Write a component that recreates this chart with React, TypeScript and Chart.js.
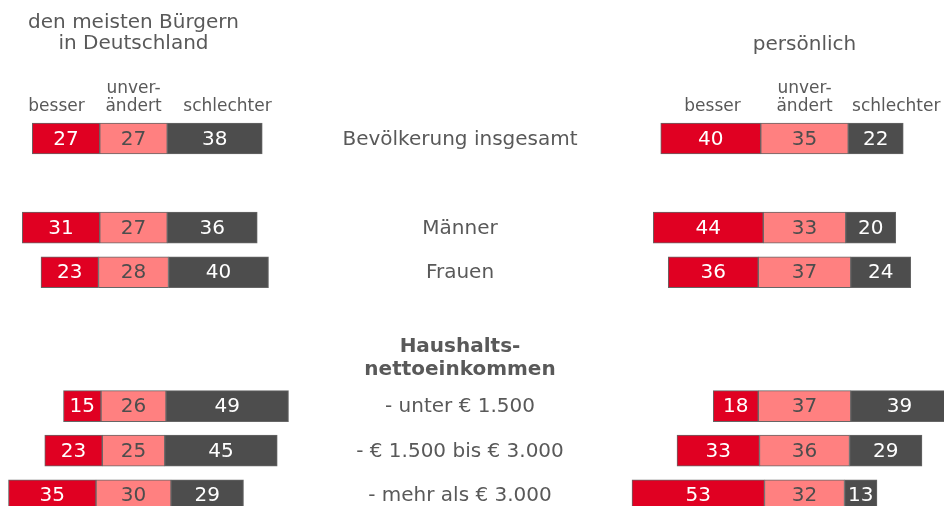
import React, { useEffect, useRef } from "react";
import { Chart, registerables } from "chart.js";

Chart.register(...registerables);

const rowLabels = [
  "Bevölkerung insgesamt",
  "Männer",
  "Frauen",
  "- unter € 1.500",
  "- € 1.500 bis € 3.000",
  "- mehr als € 3.000",
];
const rowPositions = [0, 2, 3, 6, 7, 8];
const sectionTitle = ["Haushalts-", "nettoeinkommen"];
const sectionPosition = 5;

const leftTitle = ["den meisten Bürgern", "in Deutschland"];
const rightTitle = ["persönlich"];
const columnHeads = ["besser", "unver-|ändert", "schlechter"];

const leftBesser = [27, 31, 23, 15, 23, 35];
const leftUnv = [27, 27, 28, 26, 25, 30];
const leftSchl = [38, 36, 40, 49, 45, 29];
const rightBesser = [40, 44, 36, 18, 33, 53];
const rightUnv = [35, 33, 37, 37, 36, 32];
const rightSchl = [22, 20, 24, 39, 29, 13];

const RED = "#e00022";
const PINK = "#ff8080";
const DARK = "#4d4d4d";
const TEXT = "#595959";
const FONT = "'DejaVu Sans', Verdana, sans-serif";

function segs(b: number[], u: number[], s: number[]) {
  const be = b.map((v, i) => ({ x: [-u[i] / 2 - v, -u[i] / 2], y: rowPositions[i], v }));
  const un = u.map((v, i) => ({ x: [-v / 2, v / 2], y: rowPositions[i], v }));
  const sc = s.map((v, i) => ({ x: [u[i] / 2, u[i] / 2 + v], y: rowPositions[i], v }));
  return [be, un, sc];
}

export default function App() {
  const ref = useRef<HTMLCanvasElement | null>(null);

  useEffect(() => {
    if (!ref.current) return;
    const [lb, lu, ls] = segs(leftBesser, leftUnv, leftSchl);
    const [rb, ru, rs] = segs(rightBesser, rightUnv, rightSchl);
    const mk = (data: any[], color: string, axis: string, label: string) => ({
      label,
      data,
      xAxisID: axis,
      backgroundColor: color,
      borderColor: "#666666",
      borderWidth: 1,
      borderSkipped: false,
      barThickness: 31,
      grouped: false,
    });

    const textPlugin = {
      id: "texts",
      afterDatasetsDraw(chart: any) {
        const ctx = chart.ctx;
        const xL = chart.scales.xL;
        const xR = chart.scales.xR;
        const y = chart.scales.y;
        ctx.save();
        ctx.textAlign = "center";
        ctx.textBaseline = "middle";
        // values in bars
        chart.data.datasets.forEach((ds: any, di: number) => {
          const meta = chart.getDatasetMeta(di);
          meta.data.forEach((el: any, i: number) => {
            const p = el.getCenterPoint();
            ctx.font = `20px ${FONT}`;
            ctx.fillStyle = ds.backgroundColor === PINK ? DARK : "#ffffff";
            ctx.fillText(String(ds.data[i].v), p.x, p.y + 1);
          });
        });
        // row labels
        ctx.fillStyle = TEXT;
        ctx.font = `20px ${FONT}`;
        const cx = 460;
        rowLabels.forEach((l, i) => {
          ctx.fillText(l, cx, y.getPixelForValue(rowPositions[i]) + 1);
        });
        ctx.font = `bold 20px ${FONT}`;
        const sy = y.getPixelForValue(sectionPosition);
        ctx.fillText(sectionTitle[0], cx, sy - 15);
        ctx.fillText(sectionTitle[1], cx, sy + 8);
        // titles
        ctx.font = `20px ${FONT}`;
        const lc = xL.getPixelForValue(0);
        const rc = xR.getPixelForValue(0);
        ctx.fillText(leftTitle[0], lc, 23);
        ctx.fillText(leftTitle[1], lc, 44);
        ctx.fillText(rightTitle[0], rc, 45);
        // column heads
        ctx.font = `17px ${FONT}`;
        const drawHeads = (sc: any, pos: number[]) => {
          columnHeads.forEach((h, i) => {
            const px = sc.getPixelForValue(pos[i]);
            const parts = h.split("|");
            if (parts.length === 2) {
              ctx.fillText(parts[0], px, 89);
              ctx.fillText(parts[1], px, 107);
            } else {
              ctx.fillText(parts[0], px, 107);
            }
          });
        };
        drawHeads(xL, [-30.8, 0, 37.6]);
        drawHeads(xR, [-36.8, 0, 36.7]);
        ctx.restore();
      },
    };

    const chart = new Chart(ref.current, {
      type: "bar",
      data: {
        datasets: [
          mk(lb, RED, "xL", "besser"),
          mk(lu, PINK, "xL", "unverändert"),
          mk(ls, DARK, "xL", "schlechter"),
          mk(rb, RED, "xR", "besser"),
          mk(ru, PINK, "xR", "unverändert"),
          mk(rs, DARK, "xR", "schlechter"),
        ] as any,
      },
      options: {
        indexAxis: "y",
        animation: false,
        responsive: true,
        maintainAspectRatio: false,
        layout: { padding: 0 },
        plugins: { legend: { display: false }, tooltip: { enabled: false } },
        scales: {
          y: { type: "linear", display: false, offset: false, min: -3.105, max: 8.24, reverse: true },
          xL: { type: "linear", display: false, offset: false, min: -53.4, max: 324.2, axis: "x" },
          xR: { type: "linear", display: false, offset: false, min: -321.8, max: 55.8, axis: "x" },
        } as any,
      },
      plugins: [textPlugin],
    });
    return () => chart.destroy();
  }, []);

  return (
    <div style={{ position: "fixed", left: 0, top: 0, width: 944, height: 506, background: "#fff" }}>
      <canvas ref={ref} />
    </div>
  );
}
